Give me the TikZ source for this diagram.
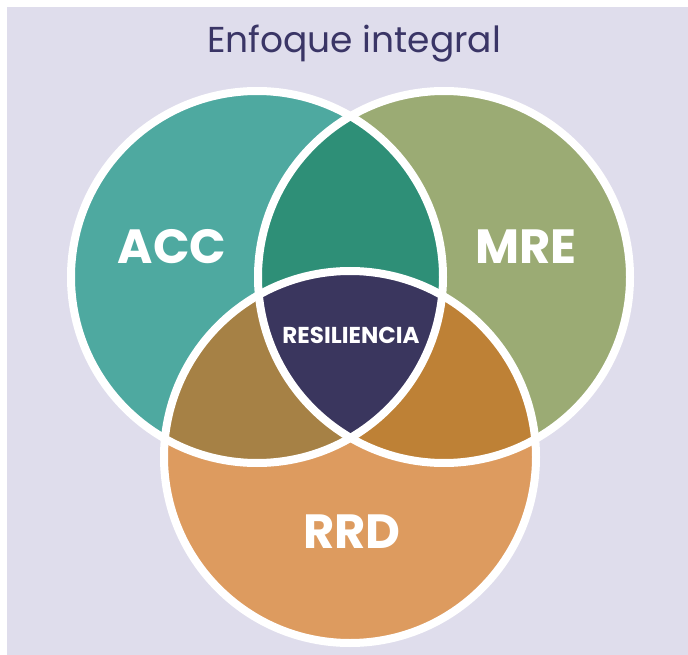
\documentclass[tikz,border=0pt]{standalone}
\usepackage{fontspec}
\setmainfont{Poppins}
\usetikzlibrary{positioning}
\definecolor{fondo}{HTML}{DFDDEC}
\definecolor{tinta}{HTML}{3A3566}
\definecolor{acccol}{HTML}{4EA9A0}
\definecolor{mrecol}{HTML}{9BAB74}
\definecolor{rrdcol}{HTML}{DD9B5F}
\definecolor{accmre}{HTML}{2E8F77}
\definecolor{accrrd}{HTML}{A68145}
\definecolor{mrerrd}{HTML}{BE8136}
\definecolor{centro}{HTML}{3A365E}

\begin{document}
\begin{tikzpicture}[x=1pt,y=-1pt]
		\tikzstyle{zone} = [circle, inner sep=0pt, minimum size=372pt]
		\tikzstyle{rim} = [draw=white, line width=8pt]
		\tikzstyle{lbl} = [text=white, font=\bfseries\fontsize{48}{48}\selectfont]
		\useasboundingbox (0,0) rectangle (688,655);
		\fill[fondo] (7,7) rectangle (688,655);
		
		\node[text=tinta, font=\fontsize{36}{36}\selectfont] (titulo) at (354,44) {Enfoque integral};
		
		\node[zone, fill=acccol] (acc) at (257,277) {};
		\node[zone, fill=mrecol] (mre) at (444,277) {};
		\node[zone, fill=rrdcol] (rrd) at (350,457) {};
		
		% overlaps
		\begin{scope}
			\clip (acc.center) circle (186pt);
			\fill[accmre] (mre.center) circle (186pt);
			\fill[accrrd] (rrd.center) circle (186pt);
		\end{scope}
		\begin{scope}
			\clip (mre.center) circle (186pt);
			\fill[mrerrd] (rrd.center) circle (186pt);
			\clip (rrd.center) circle (186pt);
			\fill[centro] (acc.center) circle (186pt);
		\end{scope}
		
		\draw[rim] (acc.center) circle (186pt);
		\draw[rim] (mre.center) circle (186pt);
		\draw[rim] (rrd.center) circle (186pt);
		
		\node[lbl] (acclbl) at (172,247) {ACC};
		\node[lbl] (mrelbl) at (526,247) {MRE};
		\node[lbl] (rrdlbl) at (352,532) {RRD};
		\node[text=white, font=\bfseries\fontsize{23}{23}\selectfont] (res) at (351,335) {RESILIENCIA};
		
\end{tikzpicture}
\end{document}
